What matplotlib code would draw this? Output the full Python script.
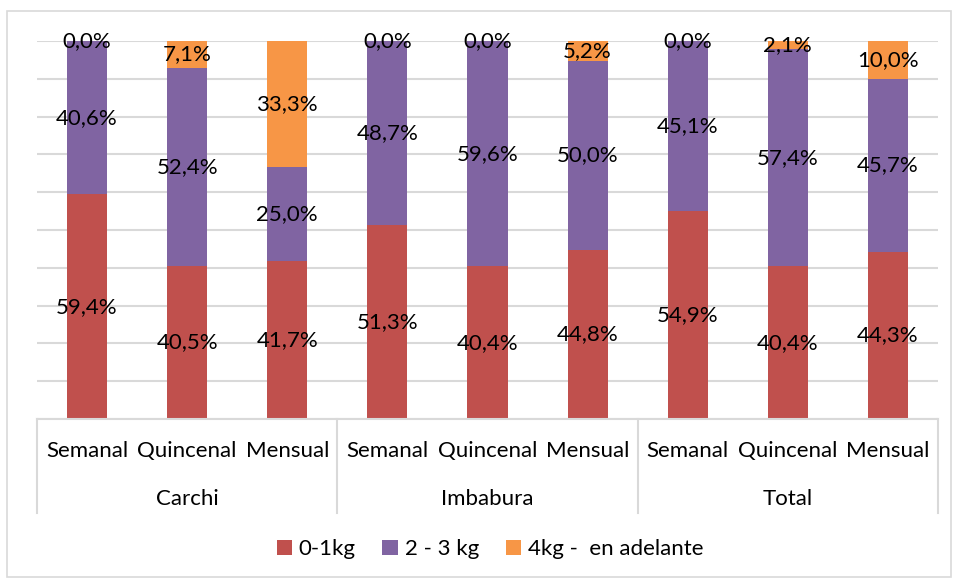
import numpy as np
import matplotlib.pyplot as plt
from matplotlib.patches import Rectangle, Patch

plt.rcParams['font.family'] = ['Lato', 'DejaVu Sans']

groups = ['Carchi', 'Imbabura', 'Total']
periods = ['Semanal', 'Quincenal', 'Mensual']
series_names = ['0-1kg', '2 - 3 kg', '4kg -  en adelante']
colors = ['#C0504D', '#8064A2', '#F79646']

kg_0_1 = [59.4, 40.5, 41.7, 51.3, 40.4, 44.8, 54.9, 40.4, 44.3]
kg_2_3 = [40.6, 52.4, 25.0, 48.7, 59.6, 50.0, 45.1, 57.4, 45.7]
kg_4_mas = [0.0, 7.1, 33.3, 0.0, 0.0, 5.2, 0.0, 2.1, 10.0]

fs = 16
fig = plt.figure(figsize=(9.55, 5.78), dpi=100)
fig.patches.append(Rectangle((7 / 955, 0.002), 944 / 955, 1 - 11 / 578 - 0.002,
                             transform=fig.transFigure, fill=False,
                             edgecolor='#D9D9D9', lw=1.2))

ax = fig.add_axes([37 / 955, 159 / 578, 901 / 955, 378 / 578])
x = np.arange(len(kg_0_1))
bottom = np.zeros(len(x))
for vals, col in zip([kg_0_1, kg_2_3, kg_4_mas], colors):
    vals = np.array(vals)
    ax.bar(x, vals, 0.4, bottom=bottom, color=col, zorder=2)
    for xi, b, v in zip(x, bottom, vals):
        ax.text(xi, b + v / 2, f'{v:.1f}%'.replace('.', ','), ha='center',
                va='center', fontsize=fs, color='black', zorder=3)
    bottom += vals

ax.set_xlim(-0.5, len(x) - 0.5)
ax.set_ylim(0, 100)
ax.set_yticks(np.arange(0, 101, 10))
ax.yaxis.grid(True, color='#D9D9D9', lw=1.5, zorder=0)
ax.tick_params(left=False, labelleft=False, bottom=False)
for s in ['left', 'right', 'top']:
    ax.spines[s].set_visible(False)
ax.spines['bottom'].set_color('#D9D9D9')
ax.spines['bottom'].set_linewidth(1.5)

ax.set_xticks(x)
ax.set_xticklabels(periods * len(groups), fontsize=fs)
ax.tick_params(axis='x', pad=12)

# group labels and separators below the axis
trans = ax.get_xaxis_transform()
for i, g in enumerate(groups):
    ax.text(3 * i + 1, -0.212, g, transform=trans, ha='center', va='center',
            fontsize=fs)
for b in [-0.5, 2.5, 5.5, 8.5]:
    ax.plot([b, b], [0, -0.249], transform=trans, color='#D9D9D9', lw=1.5,
            clip_on=False)

handles = [Patch(facecolor=c) for c in colors]
fig.legend(handles, series_names, loc='center', bbox_to_anchor=(0.513, 0.05),
           ncol=3, frameon=False, fontsize=fs, handlelength=0.7,
           handleheight=0.7, handletextpad=0.3, columnspacing=1.2)

plt.savefig('out.png')
